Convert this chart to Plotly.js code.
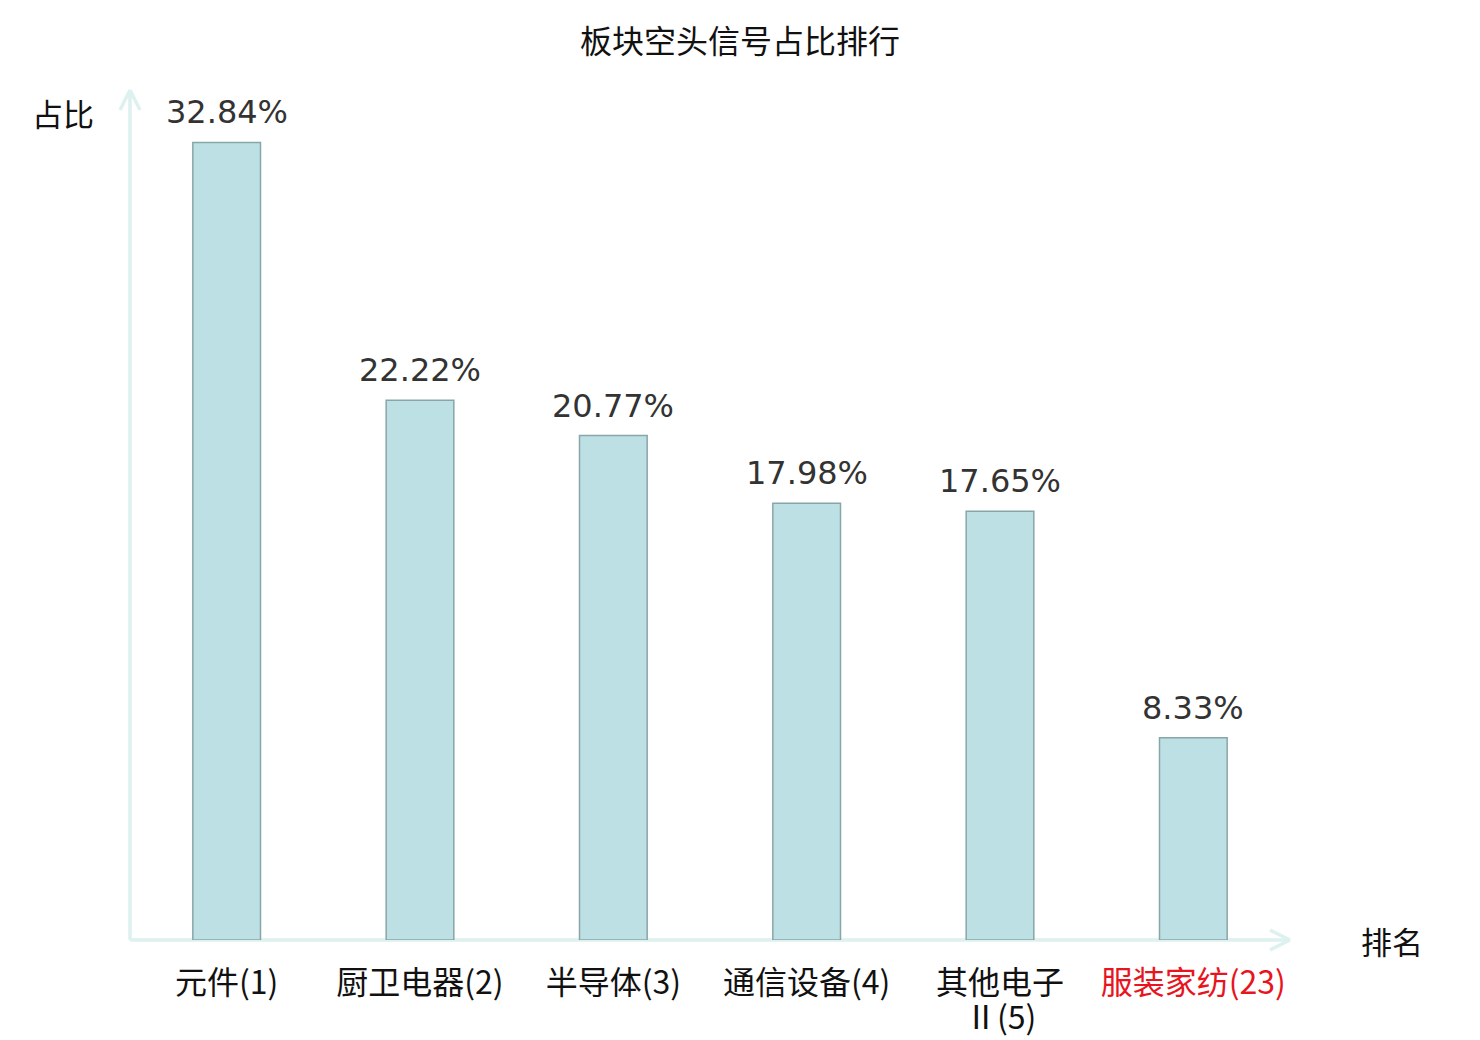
<!DOCTYPE html>
<html>
<head>
<meta charset="utf-8">
<script src="https://cdn.plot.ly/plotly-3.0.1.min.js"></script>
<style>
  html, body { margin: 0; padding: 0; background: #fff; }
  #chart { width: 1480px; height: 1040px; }
</style>
</head>
<body>
<div id="chart"></div>
<script>
// 板块名称 + 排名
const sectors = ['元件', '厨卫电器', '半导体', '通信设备', '其他电子Ⅱ', '服装家纺'];
const ranks = [1, 2, 3, 4, 5, 23];
const ratios = [32.84, 22.22, 20.77, 17.98, 17.65, 8.33];
// 高亮的板块 (红色标签)
const highlight = ['服装家纺'];

const cjkFont = '"Noto Sans CJK SC", "Noto Sans", sans-serif';
const axisColor = '#ddf1ee';
const maxChars = 4;   // 超过4个字就换行

// 标签换行: 第一行放在刻度上, 剩下的部分用注释单独放 (行距更紧凑)
const firstLine = [], restLine = [];
sectors.forEach((s, i) => {
    let label = `${s}(${ranks[i]})`;
    let rest = '';
    if (s.length > maxChars) {
        rest = label.slice(maxChars);
        label = label.slice(0, maxChars);
    }
    if (highlight.includes(s)) label = `<span style="color:#e8141e">${label}</span>`;
    firstLine.push(label);
    restLine.push(rest);
});

const trace = {
    type: 'bar',
    x: sectors,
    y: ratios,
    width: 0.35,
    marker: {
        color: 'rgb(188,224,227)',
        line: { color: 'rgb(136,166,168)', width: 1.5 }
    },
    hoverinfo: 'x+y'
};

// 数值标签
const valueLabels = sectors.map((s, i) => ({
    x: s,
    y: ratios[i],
    xref: 'x',
    yref: 'y',
    text: ratios[i].toFixed(2) + '%',
    showarrow: false,
    yanchor: 'bottom',
    yshift: 9,
    font: { family: 'DejaVu Sans, sans-serif', size: 32, color: '#333' }
}));

const wrapLabels = sectors.map((s, i) => ({ s, rest: restLine[i] }))
    .filter(d => d.rest)
    .map(d => ({
        x: d.s,
        xref: 'x',
        yref: 'paper',
        y: 0,
        yanchor: 'middle',
        yshift: -75,
        text: d.rest,
        showarrow: false,
        font: { family: cjkFont, size: 32, color: '#111' }
    }));

// 带箭头的坐标轴
const ax = 20 / 1160, ay = 10 / 850;   // x 轴箭头
const bx = 10 / 1160, by = 20 / 850;   // y 轴箭头
const lineStyle = { color: axisColor, width: 3.5 };
const axisShapes = [
    { type: 'line', xref: 'paper', yref: 'paper', x0: 0, y0: 0, x1: 1, y1: 0, line: lineStyle, layer: 'below' },
    { type: 'line', xref: 'paper', yref: 'paper', x0: 1 - ax, y0: ay, x1: 1, y1: 0, line: lineStyle },
    { type: 'line', xref: 'paper', yref: 'paper', x0: 1 - ax, y0: -ay, x1: 1, y1: 0, line: lineStyle },
    { type: 'line', xref: 'paper', yref: 'paper', x0: 0, y0: 0, x1: 0, y1: 1, line: lineStyle, layer: 'below' },
    { type: 'line', xref: 'paper', yref: 'paper', x0: -bx, y0: 1 - by, x1: 0, y1: 1, line: lineStyle },
    { type: 'line', xref: 'paper', yref: 'paper', x0: bx, y0: 1 - by, x1: 0, y1: 1, line: lineStyle }
];

const layout = {
    width: 1480,
    height: 1040,
    margin: { l: 130, r: 190, t: 90, b: 100 },
    paper_bgcolor: '#fff',
    plot_bgcolor: '#fff',
    showlegend: false,
    title: {
        text: '板块空头信号占比排行',
        x: 0.5,
        xref: 'container',
        xanchor: 'center',
        y: 1 - 42 / 1040,
        yanchor: 'middle',
        font: { family: cjkFont, size: 32, color: '#111' }
    },
    xaxis: {
        type: 'category',
        tickmode: 'array',
        tickvals: sectors,
        ticktext: firstLine,
        showline: false,
        showgrid: false,
        zeroline: false,
        ticks: '',
        ticklabelstandoff: 21,
        tickfont: { family: cjkFont, size: 32, color: '#111' },
        fixedrange: true
    },
    yaxis: {
        range: [0, 35],
        visible: false,
        showgrid: false,
        zeroline: false,
        fixedrange: true
    },
    shapes: axisShapes,
    annotations: valueLabels.concat(wrapLabels, [
        {
            text: '占比', xref: 'paper', yref: 'paper', x: -67 / 1160, y: 1 - 22 / 850,
            xanchor: 'center', yanchor: 'middle', showarrow: false,
            font: { family: cjkFont, size: 31, color: '#111' }
        },
        {
            text: '排名', xref: 'paper', yref: 'paper', x: 1 + 102 / 1160, y: 0,
            xanchor: 'center', yanchor: 'middle', showarrow: false,
            font: { family: cjkFont, size: 31, color: '#111' }
        }
    ])
};

Plotly.newPlot('chart', [trace], layout, { displayModeBar: false, responsive: false });
</script>
</body>
</html>
